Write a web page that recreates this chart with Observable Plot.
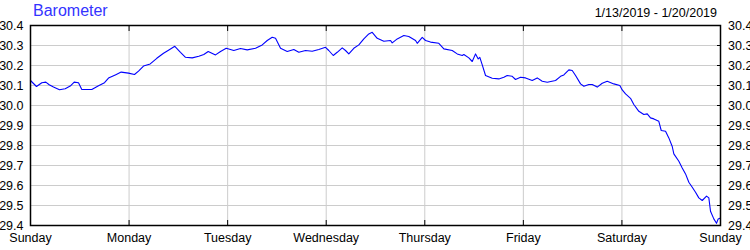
<!DOCTYPE html>
<html><head><meta charset="utf-8">
<script src="https://cdn.jsdelivr.net/npm/d3@7"></script>
<script src="https://cdn.jsdelivr.net/npm/@observablehq/plot@0.6"></script>
<style>
body{margin:0;background:#fff;}
#wrap{position:relative;width:750px;height:250px;font-family:"Liberation Sans",Arial,sans-serif;}
#title{position:absolute;left:33px;top:2px;font-size:16px;color:#3333ff;white-space:nowrap;}
#range{position:absolute;right:33px;top:5.5px;font-size:12.5px;color:#000;white-space:nowrap;}
#wrap svg{position:absolute;left:0;top:0;}
</style></head>
<body><div id="wrap"><div id="title"></div><div id="range"></div></div>
<script>
const title = "Barometer";
const dateRange = "1/13/2019 - 1/20/2019";
const startDate = "2019-01-13";
const dayCount = 7;
// hours since Sunday 00:00
const hours = [0,0.24,1.46,2.75,3.73,4.55,5.6,7.06,8.45,9.67,10.64,11.69,12.49,14.93,16.56,18.02,18.99,20.77,22.08,23.86,
25.32,26.3,27.51,29.15,30.75,32.39,33.6,35.14,36.52,37.74,39.37,40.98,42.2,43.27,45.05,46.27,47.65,49.5,51.13,52.77,
54.79,56.42,57.64,58.85,59.66,60.88,62.51,64.11,65.33,66.96,68.59,70.2,71.83,72.63,73.71,74.68,75.9,76.7,77.5,78.72,
79.94,81.16,82.37,83.2,84.42,86.03,87.66,88.07,89.29,90.9,92.11,93.75,94.16,95.38,96.18,97.4,99.42,100.64,102.68,103.9,
105.12,105.51,106.73,107.55,108.36,109.01,109.4,109.99,110.79,112.42,114.03,115.25,116.07,117.29,118.09,119.31,120.53,122.16,123.38,124.6,
125.82,127.84,129.06,129.86,131.08,131.9,132.71,133.93,134.73,135.94,136.77,137.99,139.2,140.42,142.03,143.49,144.07,144.88,146.09,146.9,
148.12,149.33,150.16,150.96,151.77,152.98,153.57,154.62,155.42,156.25,156.64,157.86,158.68,159.49,160.29,161.12,161.92,162.72,163.55,164.6,
165.16,165.57,166.37,167.03,167.44,168];
// inHg
const pressure = [30.125,30.12,30.095,30.114,30.117,30.104,30.092,30.079,30.084,30.097,30.117,30.114,30.08,30.08,30.099,30.114,30.137,30.154,30.167,30.162,
30.155,30.172,30.197,30.208,30.236,30.261,30.276,30.296,30.266,30.241,30.238,30.246,30.255,30.27,30.253,30.27,30.286,30.275,30.285,30.278,
30.286,30.303,30.325,30.341,30.336,30.286,30.27,30.28,30.266,30.275,30.271,30.28,30.291,30.275,30.25,30.266,30.288,30.275,30.258,30.286,
30.303,30.333,30.358,30.366,30.336,30.321,30.325,30.313,30.333,30.35,30.345,30.325,30.311,30.341,30.325,30.317,30.311,30.283,30.275,30.258,
30.25,30.255,30.238,30.22,30.258,30.233,30.241,30.203,30.15,30.136,30.133,30.141,30.15,30.146,30.13,30.141,30.138,30.125,30.138,30.121,
30.116,30.125,30.146,30.153,30.178,30.175,30.15,30.108,30.096,30.105,30.105,30.092,30.111,30.121,30.108,30.1,30.078,30.058,30.036,30.005,
29.971,29.955,29.958,29.938,29.933,29.921,29.875,29.871,29.838,29.795,29.758,29.721,29.688,29.658,29.616,29.591,29.566,29.538,29.525,29.547,
29.538,29.471,29.433,29.411,29.433,29.438];
const yTicks = [29.4,29.5,29.6,29.7,29.8,29.9,30.0,30.1,30.2,30.3,30.4];

document.getElementById("title").textContent = title;
document.getElementById("range").textContent = dateRange;

const t0 = new Date(startDate + "T00:00:00Z");
const t1 = d3.utcDay.offset(t0, dayCount);
const dayTicks = d3.utcDay.range(t0, d3.utcDay.offset(t1, 1));
const data = hours.map((h, i) => ({t: new Date(+t0 + h * 3600e3), v: pressure[i]}));

const chart = Plot.plot({
  width: 750, height: 250,
  marginTop: 25, marginBottom: 25, marginLeft: 30, marginRight: 30,
  style: {fontFamily: "'Liberation Sans', Arial, sans-serif", fontSize: "12.5px", color: "#000", background: "transparent"},
  x: {type: "utc", domain: [t0, t1]},
  y: {domain: [29.4, 30.4]},
  marks: [
    Plot.gridX(dayTicks, {stroke: "#cccccc", strokeOpacity: 1}),
    Plot.gridY(yTicks, {stroke: "#cccccc", strokeOpacity: 1}),
    Plot.line(data, {x: "t", y: "v", stroke: "#0000ff", strokeWidth: 1.1}),
    Plot.axisX(dayTicks, {anchor: "bottom", tickSize: 5, dy: -5, tickFormat: () => "", label: null, stroke: "#000"}),
    Plot.axisX(dayTicks, {anchor: "top", tickSize: 5, dy: 5, tickFormat: () => "", label: null, stroke: "#000"}),
    Plot.axisX(dayTicks, {anchor: "bottom", tickSize: 0, tickPadding: 8, tickFormat: d3.utcFormat("%A"), label: null}),
    Plot.axisY(yTicks, {anchor: "left", tickSize: 0, tickPadding: 7, tickFormat: d => d.toFixed(1), label: null}),
    Plot.axisY(yTicks, {anchor: "right", tickSize: 4, dx: -4, tickFormat: () => "", label: null, stroke: "#000"}),
    Plot.axisY(yTicks, {anchor: "right", tickSize: 0, tickPadding: 7.5, tickFormat: d => d.toFixed(1), label: null}),
    Plot.frame({stroke: "#000", strokeWidth: 1.5})
  ]
});
document.getElementById("wrap").appendChild(chart);
</script>
</body></html>
